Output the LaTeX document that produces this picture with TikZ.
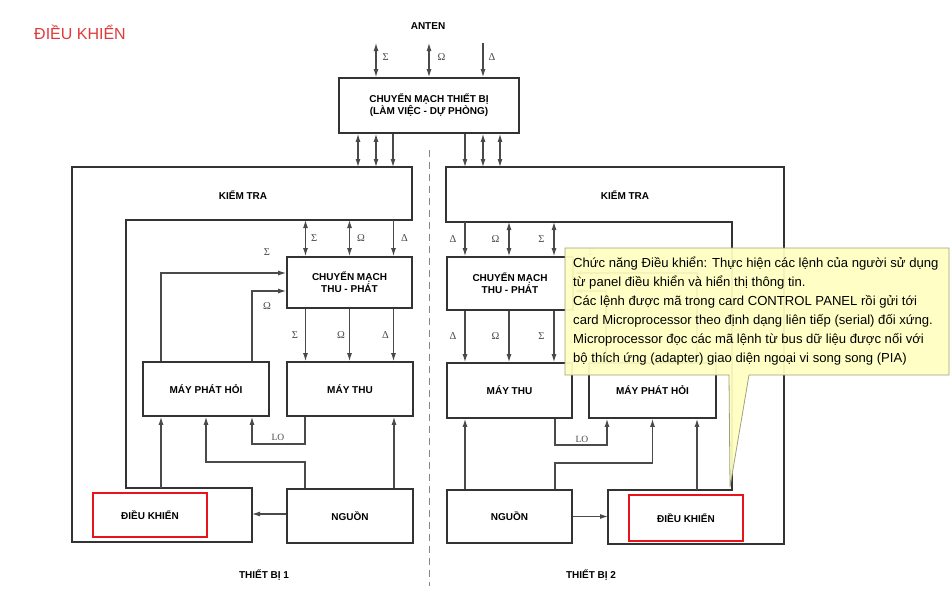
\documentclass[tikz,border=0pt]{standalone}
\usepackage{fontspec}
\setmainfont{Liberation Sans}
\newfontfamily\grfont{Liberation Serif}
\usetikzlibrary{arrows.meta}
\definecolor{boxline}{HTML}{333333}
\definecolor{conn}{HTML}{4A4A4A}
\definecolor{dashc}{HTML}{888888}
\definecolor{tipfill}{HTML}{FFFFC2}
\definecolor{tipline}{HTML}{A0A080}
\definecolor{hired}{HTML}{E8141B}
\definecolor{titlered}{HTML}{E03A3A}
\begin{document}
\begin{tikzpicture}[x=1pt,y=-1pt,
  blk/.style={draw=boxline,line width=1.8pt,fill=white,align=center,inner sep=0pt,
    font=\fontsize{10}{12}\selectfont\bfseries},
  outline/.style={draw=boxline,line width=1.8pt},
  hibox/.style={draw=hired,line width=2.8pt,align=center,inner sep=0pt,
    font=\fontsize{10}{12}\selectfont\bfseries},
  wire/.style={draw=conn,line width=1.1pt},
  arr/.style={wire,-{Latex[length=8pt,width=5pt]}},
  darr/.style={wire,{Latex[length=8pt,width=5pt]}-{Latex[length=8pt,width=5pt]}},
  gk/.style={font=\fontsize{10.5}{11}\selectfont\grfont,text=conn,inner sep=0pt},
  lbl/.style={font=\fontsize{10}{12}\selectfont\bfseries,inner sep=0pt},
]
\useasboundingbox (0,0) rectangle (950,600);
\fill[white] (0,0) rectangle (950,600);

% title
\node[anchor=west,text=titlered,inner sep=0pt,font=\fontsize{16}{18}\selectfont] (title) at (34,32) {ĐIỀU KHIỂN};

% antenna and equipment switch
\node[lbl] (anten) at (428,26) {ANTEN};
\node[blk,minimum width=180pt,minimum height=55pt] (sw) at (429,105.5) {CHUYỂN MẠCH THIẾT BỊ\\(LÀM VIỆC - DỰ PHÒNG)};
\coordinate (antS) at (376,43);
\coordinate (antO) at (429,43);
\coordinate (antD) at (483,43);
\draw[darr] (antS) -- node[gk,right=6pt,pos=0.4] {Σ} (antS |- sw.north);
\draw[darr] (antO) -- node[gk,right=8pt,pos=0.4] {Ω} (antO |- sw.north);
\draw[arr] (antD) -- node[gk,right=5pt,pos=0.4] {Δ} (antD |- sw.north);

% divider
\coordinate (dv1) at (429,150);
\coordinate (dv2) at (429,586);
\draw[dashc,line width=1pt,dash pattern=on 7pt off 5pt] (dv1) -- (dv2);

% ---------- device 1 ----------
\coordinate (kLa) at (72,167);  \coordinate (kLb) at (412,167);
\coordinate (kLc) at (412,220); \coordinate (kLd) at (126,220);
\coordinate (kLe) at (126,488); \coordinate (kLf) at (252,488);
\coordinate (kLg) at (252,542); \coordinate (kLh) at (72,542);
\draw[outline] (kLa) -- (kLb) -- (kLc) -- (kLd) -- (kLe) -- (kLf) -- (kLg) -- (kLh) -- cycle;
\node[lbl] (ktL) at (243,195) {KIỂM TRA};

\node[blk,minimum width=125pt,minimum height=51pt] (cmL) at (349.5,282.5) {CHUYỂN MẠCH\\THU - PHÁT};
\node[blk,minimum width=126pt,minimum height=54pt] (mphL) at (206,389) {MÁY PHÁT HỎI};
\node[blk,minimum width=126pt,minimum height=54pt] (mtL) at (350,389) {MÁY THU};
\node[blk,minimum width=126pt,minimum height=54pt] (ngL) at (350,516) {NGUỒN};
\node[hibox,minimum width=114pt,minimum height=44pt] (dkL) at (150,515) {ĐIỀU KHIỂN};

% switch <-> device 1
\draw[darr] ([xshift=-71pt]sw.south) -- ([xshift=-71pt]sw.south |- kLb);
\draw[darr] ([xshift=-53pt]sw.south) -- ([xshift=-53pt]sw.south |- kLb);
\draw[arr]  ([xshift=-36pt]sw.south) -- ([xshift=-36pt]sw.south |- kLb);

% kiem tra -> cm thu-phat
\draw[darr] ([xshift=-44pt]cmL.north |- kLc) -- node[gk,right=5pt] {Σ} ([xshift=-44pt]cmL.north);
\draw[darr] ([xshift=0pt]cmL.north |- kLc) -- node[gk,right=7pt] {Ω} ([xshift=0pt]cmL.north);
\draw[arr]  ([xshift=44pt]cmL.north |- kLc) -- node[gk,right=7pt] {Δ} ([xshift=44pt]cmL.north);
% cm thu-phat -> may thu
\draw[arr] ([xshift=-44pt]cmL.south) -- node[gk,left=7pt] {Σ} ([xshift=-44pt]cmL.south |- mtL.north);
\draw[arr] ([xshift=0pt]cmL.south) -- node[gk,left=4pt] {Ω} ([xshift=0pt]cmL.south |- mtL.north);
\draw[arr] ([xshift=44pt]cmL.south) -- node[gk,left=4pt] {Δ} ([xshift=44pt]cmL.south |- mtL.north);
% may phat hoi -> cm thu-phat
\draw[arr] ([xshift=-45pt]mphL.north) |- ([yshift=9.5pt]cmL.west);
\draw[arr] ([xshift=46pt]mphL.north) |- ([yshift=-8.5pt]cmL.west);
\node[gk] (sgL) at (267,252) {Σ};
\node[gk] (omL) at (267,306) {Ω};
% lower connections
\draw[arr] ([xshift=-45pt]mphL.south |- kLe) -- ([xshift=-45pt]mphL.south);
\coordinate (jL1) at (305,462);
\draw[arr] ([xshift=-45pt]ngL.north) -- (jL1) -| (mphL.south);
\coordinate (jL2) at (252,444);
\draw[arr] ([xshift=-45pt]mtL.south) |- (jL2) -- ([xshift=46pt]mphL.south);
\node[gk,font=\fontsize{9.5}{10}\selectfont\grfont] (loL) at (278,437) {LO};
\draw[arr] ([xshift=44pt]ngL.north) -- ([xshift=44pt]mtL.south);
\draw[arr] ([yshift=2pt]ngL.west) -- ([yshift=2pt]ngL.west -| kLf);
\node[lbl] (tb1) at (264,575) {THIẾT BỊ 1};

% ---------- device 2 ----------
\coordinate (kRa) at (446,167); \coordinate (kRb) at (784,167);
\coordinate (kRc) at (784,544); \coordinate (kRd) at (608,544);
\coordinate (kRe) at (608,490); \coordinate (kRf) at (732,490);
\coordinate (kRg) at (732,222); \coordinate (kRh) at (446,222);
\draw[outline] (kRa) -- (kRb) -- (kRc) -- (kRd) -- (kRe) -- (kRf) -- (kRg) -- (kRh) -- cycle;
\node[lbl] (ktR) at (625,195) {KIỂM TRA};

\node[blk,minimum width=126pt,minimum height=53pt] (cmR) at (510,283.5) {CHUYỂN MẠCH\\THU - PHÁT};
\node[blk,minimum width=125pt,minimum height=55pt] (mtR) at (509.5,390.5) {MÁY THU};
\node[blk,minimum width=127pt,minimum height=55pt] (mphR) at (652.5,390.5) {MÁY PHÁT HỎI};
\node[blk,minimum width=125pt,minimum height=53pt] (ngR) at (509.5,516.5) {NGUỒN};
\node[hibox,minimum width=114pt,minimum height=46pt] (dkR) at (686,518) {ĐIỀU KHIỂN};

% switch <-> device 2
\draw[arr]  ([xshift=36pt]sw.south) -- ([xshift=36pt]sw.south |- kRa);
\draw[darr] ([xshift=54pt]sw.south) -- ([xshift=54pt]sw.south |- kRa);
\draw[darr] ([xshift=71pt]sw.south) -- ([xshift=71pt]sw.south |- kRa);

% kiem tra -> cm thu-phat
\draw[arr]  ([xshift=-45pt]cmR.north |- kRh) -- node[gk,left=8pt] {Δ} ([xshift=-45pt]cmR.north);
\draw[darr] ([xshift=-1pt]cmR.north |- kRh) -- node[gk,left=9pt] {Ω} ([xshift=-1pt]cmR.north);
\draw[darr] ([xshift=44pt]cmR.north |- kRh) -- node[gk,left=9pt] {Σ} ([xshift=44pt]cmR.north);
% cm thu-phat -> may thu
\draw[arr] ([xshift=-45pt]cmR.south) -- node[gk,left=8pt] {Δ} ([xshift=-45pt]cmR.south |- mtR.north);
\draw[arr] ([xshift=-1pt]cmR.south) -- node[gk,left=9pt] {Ω} ([xshift=-1pt]cmR.south |- mtR.north);
\draw[arr] ([xshift=44pt]cmR.south) -- node[gk,left=9pt] {Σ} ([xshift=44pt]cmR.south |- mtR.north);
% may phat hoi -> cm thu-phat (mostly behind the note)
\draw[arr] ([xshift=44.5pt]mphR.north) |- ([yshift=10.5pt]cmR.east);
\draw[arr] ([xshift=-46.5pt]mphR.north) |- ([yshift=-7.5pt]cmR.east);
\node[gk] (sgR) at (591,252) {Σ};
% lower connections
\draw[arr] ([xshift=-44.5pt]ngR.north) -- ([xshift=-44.5pt]mtR.south);
\coordinate (jR2) at (607,445);
\draw[arr] ([xshift=45.5pt]mtR.south) |- (jR2) -- ([xshift=-45.5pt]mphR.south);
\node[gk,font=\fontsize{9.5}{10}\selectfont\grfont] (loR) at (582,439) {LO};
\coordinate (jR1) at (555,463);
\draw[arr] ([xshift=45.5pt]ngR.north) -- (jR1) -| (mphR.south);
\draw[arr] ([xshift=44.5pt]mphR.south |- kRe) -- ([xshift=44.5pt]mphR.south);
\draw[arr] (ngR.east) -- (ngR.east -| kRe);
\node[lbl] (tb2) at (591,575) {THIẾT BỊ 2};

% ---------- callout ----------
\coordinate (c1) at (565,248); \coordinate (c2) at (949,248);
\coordinate (c3) at (949,375); \coordinate (c4) at (749,375);
\coordinate (ctip) at (730,487); \coordinate (c5) at (729,375);
\coordinate (c6) at (565,375);
\draw[draw=tipline,line width=0.8pt,fill=tipfill,fill opacity=0.94]
  (c1) -- (c2) -- (c3) -- (c4) -- (ctip) -- (c5) -- (c6) -- cycle;
\node[anchor=north west,inner sep=0pt,align=left,text=black,
  font=\fontsize{13.1}{19}\selectfont] (note) at (573,257)
  {Chức năng Điều khiển: Thực hiện các lệnh của người sử dụng\\
   từ panel điều khiển và hiển thị thông tin.\\
   Các lệnh được mã trong card CONTROL PANEL rồi gửi tới\\
   card Microprocessor theo định dạng liên tiếp (serial) đối xứng.\\
   Microprocessor đọc các mã lệnh từ bus dữ liệu được nối với\\
   bộ thích ứng (adapter) giao diện ngoại vi song song (PIA)};
\end{tikzpicture}
\end{document}
